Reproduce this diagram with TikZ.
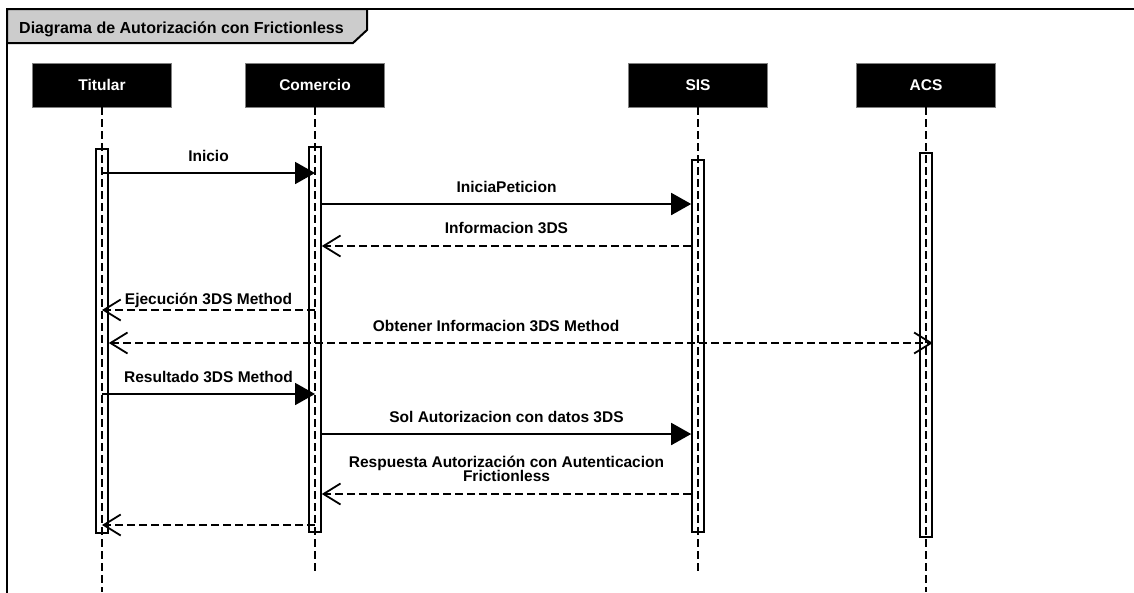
\documentclass[tikz,border=0pt]{standalone}
\usepackage{fontspec}
\setmainfont{Liberation Sans}
\usetikzlibrary{arrows.meta,positioning}

\begin{document}
\begin{tikzpicture}[x=1pt, y=-1pt, font=\fontsize{15.5}{17}\selectfont\bfseries,
	actor/.style={fill=black, draw=gray, text=white, minimum width=139pt, minimum height=44pt, inner sep=0pt},
	bar/.style={draw=black, line width=1.6pt, minimum width=12pt, inner sep=0pt},
	life/.style={line width=1.6pt, dash pattern=on 8pt off 4pt},
	call/.style={line width=1.8pt, -{Triangle[length=20pt, width=22pt]}},
	reply/.style={line width=1.8pt, dash pattern=on 8pt off 4pt, -{Straight Barb[length=17pt, width=21pt, line width=1.8pt]}},
	both/.style={line width=1.8pt, dash pattern=on 8pt off 4pt, {Straight Barb[length=17pt, width=21pt, line width=1.8pt]}-{Straight Barb[length=17pt, width=21pt, line width=1.8pt]}},
	lbl/.style={anchor=base, yshift=12pt, inner sep=0pt}]
	\useasboundingbox (0,0) rectangle (1134,592);

	% frame and title tab
	\draw[line width=2pt] (7,600) -- (7,9) -- (1140,9);
	\draw[line width=2pt, fill=gray!40] (7,9) -- (367,9) -- (367,30) -- (353,43) -- (7,43) -- cycle;
	\node[anchor=base west, inner sep=0pt, font=\fontsize{16}{18}\selectfont\bfseries] (title) at (19,33) {Diagrama de Autorización con Frictionless};

	% participants
	\foreach \n/\x/\t in {tit/102/Titular, com/315/Comercio, sis/698/SIS, acs/926/ACS}
		\node[actor] (\n) at (\x,85) {\t};

	% activation bars
	\foreach \n/\x/\a/\b in {tit/102/149/533, com/315/147/532, sis/698/160/532, acs/926/153/537}
		\node[bar, minimum height={(\b-\a)*1pt}] (\n bar) at (\x,{(\a+\b)/2}) {};

	% lifelines
	\foreach \n/\e in {tit/592, com/572, sis/572, acs/592} {
		\coordinate (\n end) at (\n.south |- 0,\e);
		\draw[life] (\n.south) -- (\n end);
	}

	% messages
	\draw[call] (titbar.center |- 0,173) -- node[lbl] (m1) {Inicio} (combar.center |- 0,173);
	\draw[call] (combar.east |- 0,204) -- node[lbl] (m2) {IniciaPeticion} (sisbar.west |- 0,204);
	\draw[reply] (sisbar.west |- 0,246) -- node[lbl, yshift=1pt] (m3) {Informacion 3DS} (combar.east |- 0,246);
	\draw[reply] (combar.center |- 0,310) -- node[lbl, yshift=-6pt] (m4) {Ejecución 3DS Method} (titbar.center |- 0,310);
	\draw[both] (titbar.east |- 0,343) -- node[lbl, pos=.47] (m5) {Obtener Informacion 3DS Method} (acsbar.east |- 0,343);
	\draw[call] (titbar.center |- 0,394) -- node[lbl] (m6) {Resultado 3DS Method} (combar.center |- 0,394);
	\draw[call] (combar.east |- 0,434) -- node[lbl] (m7) {Sol Autorizacion con datos 3DS} (sisbar.west |- 0,434);
	\draw[reply] (sisbar.west |- 0,494) -- node[anchor=south, yshift=11pt, inner sep=0pt, align=center, font=\fontsize{15.5}{14.5}\selectfont\bfseries] (m8) {Respuesta Autorización con Autenticacion\\Frictionless} (combar.east |- 0,494);
	\draw[reply] (combar.center |- 0,525) -- (titbar.center |- 0,525);
\end{tikzpicture}
\end{document}
